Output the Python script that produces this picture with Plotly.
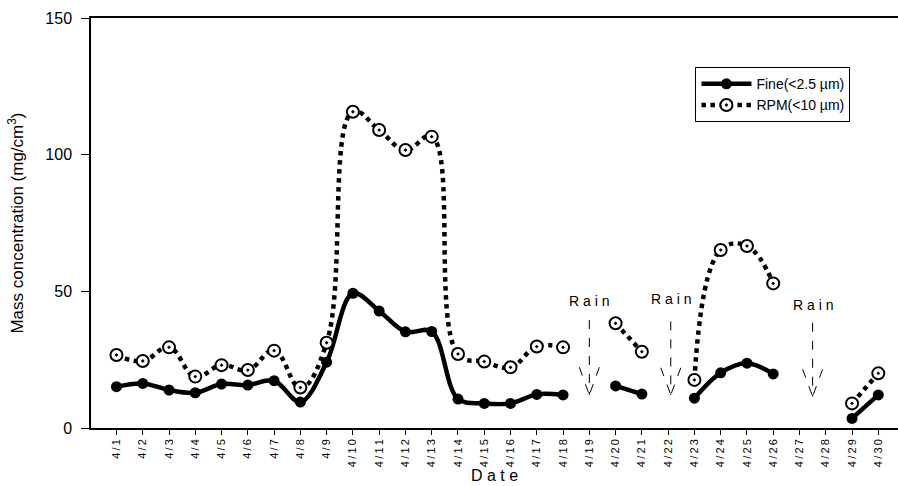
import plotly.graph_objects as go

dates = ["4/%d" % d for d in range(1, 31)]
fine = [15.1, 16.3, 13.9, 12.9, 16.1, 15.7, 17.3, 9.5, 24.1, 49.3,
        42.8, 35.2, 35.3, 10.6, 9.0, 9.0, 12.3, 12.1, None, 15.4,
        12.4, None, 10.9, 20.2, 23.7, 19.8, None, None, 3.5, 12.1]
rpm = [26.7, 24.5, 29.5, 18.8, 23.0, 21.2, 28.3, 14.8, 31.2, 115.7,
       109.0, 101.7, 106.6, 27.1, 24.3, 22.2, 29.8, 29.5, None, 38.3,
       27.9, None, 17.6, 65.1, 66.6, 52.9, None, None, 9.0, 20.0]
rain_x = [18, 21.1, 26.5]
rain_text_y = [46.6, 47.2, 45.0]
rain_arrow_top = [39.5, 39.0, 38.5]
rain_arrow_tip = [12.1, 12.1, 11.5]
y_ticks = [0, 50, 100, 150]

idx = list(range(len(dates)))
tick_text = ["\u2009".join(list(d)) for d in dates]
FONT = "Arial, Liberation Sans, sans-serif"

fig = go.Figure()
fig.add_trace(go.Scatter(
    x=idx, y=fine, mode="lines+markers", name="Fine(<2.5 \u00b5m)",
    line=dict(color="black", width=4.5, shape="spline", smoothing=1.0),
    marker=dict(symbol="circle", size=11, color="black"),
    connectgaps=False))
fig.add_trace(go.Scatter(
    x=idx, y=rpm, mode="lines+markers", name="RPM(<10 \u00b5m)",
    line=dict(color="black", width=4.5, dash="dot", shape="spline", smoothing=1.2),
    marker=dict(symbol="circle-dot", size=12, color="white",
                line=dict(color="black", width=2)),
    connectgaps=False))

for xr, ty, top, tip in zip(rain_x, rain_text_y, rain_arrow_top, rain_arrow_tip):
    fig.add_annotation(x=xr, y=ty, text="R a i n", showarrow=False,
                       font=dict(family=FONT, size=14, color="black"))
    head = tip + (top - tip) * 0.37
    for (x0, y0) in [(xr, top), (xr - 0.38, head), (xr + 0.38, head)]:
        fig.add_shape(type="line", x0=x0, y0=y0, x1=xr, y1=tip,
                      line=dict(color="black", width=1, dash="dash"))

fig.update_layout(
    width=898, height=486,
    margin=dict(l=91, r=0, t=18, b=58),
    paper_bgcolor="white", plot_bgcolor="white",
    font=dict(family=FONT, color="black"),
    showlegend=True,
    legend=dict(x=0.749, y=0.88, xanchor="left", yanchor="top",
                bordercolor="black", borderwidth=1, bgcolor="white",
                font=dict(family=FONT, size=14), itemwidth=50,
                tracegroupgap=2),
)
fig.update_xaxes(
    range=[-0.97, 29.75], tickmode="array", tickvals=idx, ticktext=tick_text,
    tickangle=-90, tickfont=dict(size=11, family=FONT),
    ticks="outside", ticklen=5, tickcolor="black", automargin=False,
    showline=True, linecolor="black", linewidth=1.5, mirror=True,
    showgrid=False, zeroline=False,
    title=dict(text="D a t e", font=dict(size=16, family=FONT), standoff=2))
fig.update_yaxes(
    range=[0, 150], tickvals=y_ticks, tickfont=dict(size=16, family=FONT),
    ticks="outside", ticklen=8, tickcolor="black", automargin=False,
    ticklabelstandoff=6,
    showline=True, linecolor="black", linewidth=1.5,
    showgrid=False, zeroline=False,
    title=dict(text="Mass concentration (mg/cm<sup>3</sup>)",
               font=dict(size=17, family=FONT), standoff=17))

fig.write_html("out.html", config={"displayModeBar": False},
               post_script="document.body.style.margin='0';")
